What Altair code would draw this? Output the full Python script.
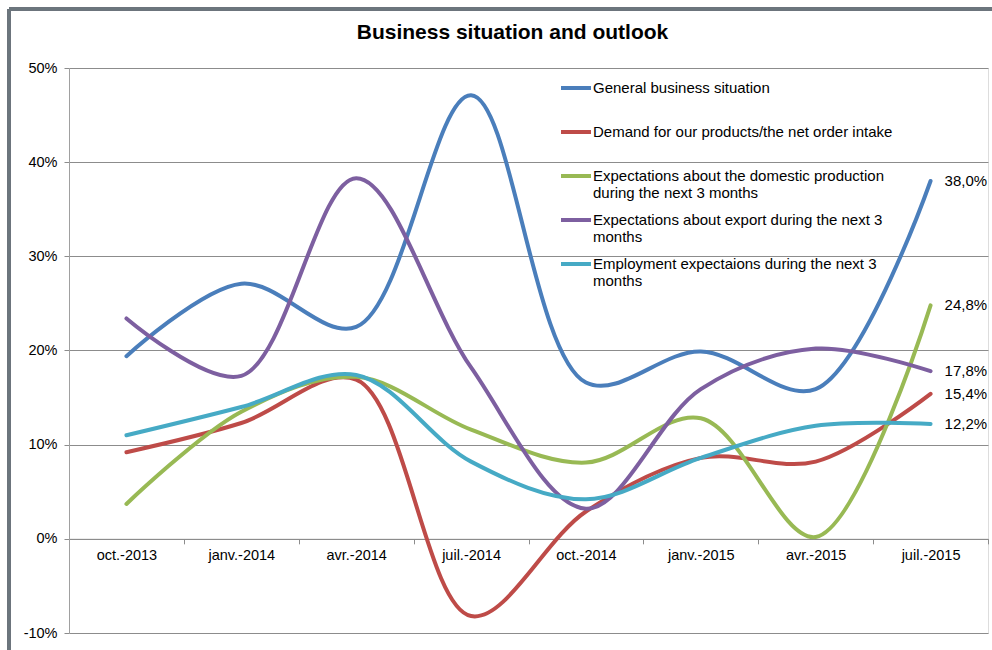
import altair as alt
import pandas as pd

periods = ["oct.-2013", "janv.-2014", "avr.-2014", "juil.-2014",
           "oct.-2014", "janv.-2015", "avr.-2015", "juil.-2015"]

series_names = [
    "General business situation| ",
    "Demand for our products/the net order intake| ",
    "Expectations about the domestic production|during the next 3 months",
    "Expectations about export during the next 3|months",
    "Employment expectaions during the next 3|months",
]
series_colors = ["#4A7EBB", "#BE4B48", "#98B954", "#7D5FA0", "#46AAC5"]

general = [19.4, 27.1, 22.5, 47.1, 16.6, 19.9, 15.9, 38.0]
demand = [9.2, 12.3, 16.9, -8.2, 2.9, 8.6, 8.2, 15.4]
domestic = [3.7, 13.5, 17.2, 11.6, 8.1, 12.8, 0.2, 24.8]
export = [23.4, 17.3, 38.3, 18.2, 3.2, 15.9, 20.2, 17.8]
employment = [11.0, 14.0, 17.4, 8.2, 4.2, 8.6, 12.0, 12.2]

all_values = [general, demand, domestic, export, employment]

rows = []
for name, vals in zip(series_names, all_values):
    for i, (p, v) in enumerate(zip(periods, vals)):
        rows.append({"period": p, "series": name, "value": v / 100.0,
                     "last": i == len(periods) - 1})
df = pd.DataFrame(rows)

FONT = "Liberation Sans"

x_enc = alt.X("period:O", sort=periods, bandPosition=0.5,
              scale=alt.Scale(type="band", paddingInner=0, paddingOuter=0),
              axis=alt.Axis(title=None, labelAngle=0, offset=-94.17,
                            tickBand="extent", domainColor="#8c8c8c",
                            tickColor="#8c8c8c", tickSize=5, labelPadding=5,
                            labelFontSize=14.5, labelColor="#000000",
                            labelFont=FONT, grid=False))
y_enc = alt.Y("value:Q",
              scale=alt.Scale(domain=[-0.1, 0.5], nice=False, zero=False),
              axis=alt.Axis(title=None, format=".0%",
                            labelExpr="replace(datum.label, '\u2212', '-')",
                            values=[-0.1, 0, 0.1, 0.2, 0.3, 0.4, 0.5],
                            gridColor="#8c8c8c", gridWidth=1,
                            domainColor="#a0a0a0", tickColor="#8c8c8c",
                            tickSize=5, labelPadding=7, labelFontSize=14.5,
                            labelColor="#000000", labelFont=FONT))

color_enc = alt.Color("series:N",
                      scale=alt.Scale(domain=series_names, range=series_colors),
                      legend=alt.Legend(title=None, orient="none",
                                        legendX=490, legendY=3,
                                        symbolType="stroke", symbolSize=900,
                                        symbolStrokeWidth=4, labelFontSize=15,
                                        labelFont=FONT,
                                        labelColor="#000000", labelLimit=500,
                                        labelOffset=0, rowPadding=2,
                                        padding=0,
                                        labelExpr="split(datum.label, '|')"))

lines = alt.Chart(df).mark_line(interpolate="catmull-rom", strokeWidth=4,
                                strokeCap="round").encode(
    x=x_enc, y=y_enc, color=color_enc,
    order=alt.Order("series:N"))

labels = alt.Chart(df).transform_filter("datum.last").transform_calculate(
    txt="replace(format(datum.value, '.1%'), '.', ',')"
).mark_text(align="left", baseline="middle", dx=14, fontSize=15,
            font=FONT, color="#000000").encode(
    x=alt.X("period:O", sort=periods, bandPosition=0.5),
    y=alt.Y("value:Q"),
    text="txt:N")

frame_left = alt.Chart(df).mark_rule(color="#6b767d", strokeWidth=2.5).encode(
    x=alt.value(-60), y=alt.value(-59), y2=alt.value(590))
frame_top = alt.Chart(df).mark_rule(color="#6b767d", strokeWidth=2.5).encode(
    x=alt.value(-60), x2=alt.value(930), y=alt.value(-59))

chart = alt.layer(lines, labels, frame_left, frame_top).properties(
    width=919, height=565,
    autosize=alt.AutoSizeParams(type="none"),
    padding={"left": 69, "top": 68, "right": 4, "bottom": 17},
    title=alt.TitleParams("Business situation and outlook", fontSize=21,
                          font=FONT, fontWeight="bold", baseline="bottom",
                          color="#000000", anchor="middle", offset=-56,
                          dx=-16),
).configure_view(stroke=None).configure(background="white")

chart.save("out.html", embed_options={"renderer": "svg", "actions": False})
